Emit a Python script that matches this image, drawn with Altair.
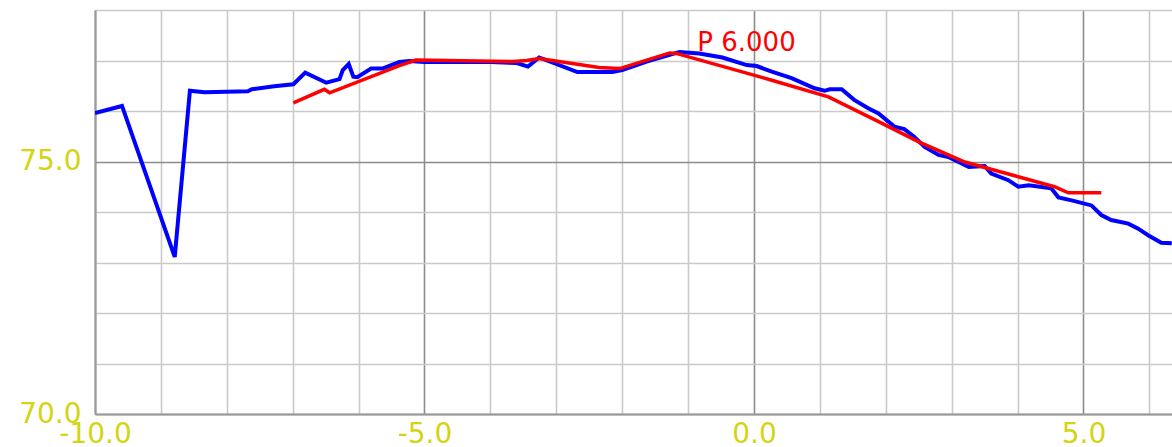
import altair as alt
import pandas as pd

blue_x = [-10.0, -9.59, -8.79, -8.56, -8.34, -7.68, -7.62, -7.28, -6.99, -6.81, -6.49, -6.29, -6.24,
          -6.15, -6.08, -6.02, -5.81, -5.64, -5.38, -5.23, -5.0, -4.0, -3.6, -3.43, -3.26, -2.68,
          -2.15, -2.0, -1.63, -1.28, -1.13, -0.83, -0.48, -0.11, 0.04, 0.27, 0.57, 0.92, 1.07,
          1.15, 1.33, 1.52, 1.74, 1.89, 2.13, 2.28, 2.43, 2.59, 2.80, 2.95, 3.26, 3.50, 3.60,
          3.86, 4.01, 4.17, 4.51, 4.62, 4.82, 5.12, 5.27, 5.42, 5.68, 5.83, 5.98, 6.18, 6.34]
blue_y = [75.96, 76.10, 73.11, 76.40, 76.37, 76.39, 76.43, 76.49, 76.53, 76.76, 76.56, 76.63, 76.81,
          76.93, 76.68, 76.67, 76.84, 76.84, 76.97, 76.99, 76.97, 76.97, 76.95, 76.88, 77.06, 76.77,
          76.77, 76.81, 76.98, 77.11, 77.17, 77.14, 77.06, 76.91, 76.89, 76.78, 76.65, 76.45, 76.40,
          76.43, 76.43, 76.22, 76.05, 75.95, 75.69, 75.64, 75.49, 75.29, 75.13, 75.09, 74.89, 74.91, 74.76,
          74.63, 74.50, 74.53, 74.47, 74.29, 74.23, 74.13, 73.94, 73.84, 73.77, 73.67, 73.54, 73.39, 73.38]

red_x = [-6.99, -6.52, -6.44, -5.38, -5.13, -3.66, -3.45, -3.26, -3.06, -2.35, -2.04, -1.28, -1.18,
         0.27, 1.13, 1.89, 2.50, 3.20, 4.56, 4.77, 5.27]
red_y = [76.16, 76.43, 76.36, 76.90, 77.01, 76.98, 77.00, 77.04, 77.00, 76.86, 76.84, 77.15, 77.14,
         76.61, 76.28, 75.79, 75.39, 74.99, 74.50, 74.38, 74.38]

label_text = ["P 6.000"]
label_x = [-0.86]
label_y = [77.35]

x_ticks = list(range(-10, 7))
y_ticks = list(range(70, 79))

YELLOW = "#d4d414"

xscale = alt.Scale(domain=[-10, 6.343], nice=False, zero=False)
yscale = alt.Scale(domain=[70, 78], nice=False, zero=False)

grid_color = alt.condition("datum.value % 5 === 0", alt.value("#8c8c8c"), alt.value("#cacaca"))
label_expr = ("datum.value % 5 === 0 ? (datum.value < 0 ? '-' : '') + "
              "format(abs(datum.value), '.1f') : ''")

xaxis = alt.Axis(values=x_ticks, labelExpr=label_expr, title=None, grid=True,
                 gridColor=grid_color, gridWidth=1.6, ticks=False,
                 domainColor="#9a9a9a", domainWidth=2,
                 labelColor=YELLOW, labelFont="DejaVu Sans", labelFontSize=28,
                 labelPadding=6, labelOverlap=False, labelFlush=False)
yaxis = alt.Axis(values=y_ticks, labelExpr=label_expr, title=None, grid=True,
                 gridColor=grid_color, gridWidth=1.6, ticks=False,
                 domainColor="#9a9a9a", domainWidth=2,
                 labelColor=YELLOW, labelFont="DejaVu Sans", labelFontSize=28,
                 labelPadding=14, labelOverlap=False, labelFlush=False,
                 labelBaseline="middle")

blue_df = pd.DataFrame({"x": blue_x, "y": blue_y, "i": range(len(blue_x))})
red_df = pd.DataFrame({"x": red_x, "y": red_y, "i": range(len(red_x))})
lab_df = pd.DataFrame({"x": label_x, "y": label_y, "t": label_text})

blue = alt.Chart(blue_df).mark_line(color="#0000ff", strokeWidth=4, clip=True).encode(
    x=alt.X("x:Q", scale=xscale, axis=xaxis),
    y=alt.Y("y:Q", scale=yscale, axis=yaxis),
    order="i:Q",
)
red = alt.Chart(red_df).mark_line(color="#ff0000", strokeWidth=3.5).encode(
    x=alt.X("x:Q", scale=xscale),
    y=alt.Y("y:Q", scale=yscale),
    order="i:Q",
)
text = alt.Chart(lab_df).mark_text(color="#ff0000", font="DejaVu Sans", fontSize=26,
                                   align="left", baseline="middle").encode(
    x=alt.X("x:Q", scale=xscale),
    y=alt.Y("y:Q", scale=yscale),
    text="t:N",
)

chart = alt.layer(blue, red, text).properties(
    width=1077, height=404,
    autosize=alt.AutoSizeParams(type="none"),
    padding={"left": 95, "top": 10, "right": 0, "bottom": 33},
    background="white",
).configure_view(strokeWidth=0)

chart.save("out.html", embed_options={"renderer": "svg", "actions": False})
